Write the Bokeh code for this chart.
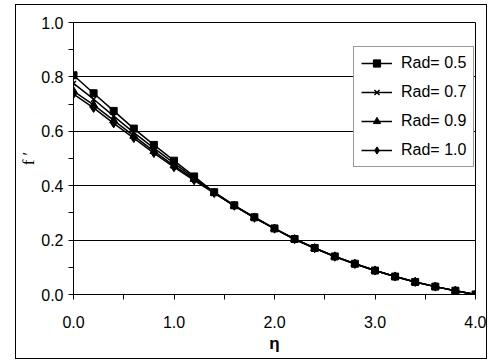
from bokeh.plotting import figure
from bokeh.models import (Legend, LegendItem, FixedTicker,
                          Range1d, NumeralTickFormatter)
from bokeh.embed import file_html
from bokeh.resources import INLINE

# ---- data ----
eta = [0.0, 0.2, 0.4, 0.6, 0.8, 1.0, 1.2, 1.4, 1.6, 1.8, 2.0,
       2.2, 2.4, 2.6, 2.8, 3.0, 3.2, 3.4, 3.6, 3.8, 4.0]
f_rad05 = [0.806, 0.740, 0.675, 0.610, 0.550, 0.492, 0.434, 0.376, 0.328, 0.284, 0.243,
           0.204, 0.171, 0.140, 0.113, 0.088, 0.066, 0.046, 0.029, 0.014, 0.0]
f_rad07 = [0.776, 0.718, 0.656, 0.595, 0.538, 0.483, 0.429, 0.375, 0.327, 0.283, 0.242,
           0.204, 0.171, 0.140, 0.113, 0.088, 0.066, 0.046, 0.029, 0.014, 0.0]
f_rad09 = [0.748, 0.697, 0.640, 0.583, 0.527, 0.474, 0.424, 0.374, 0.326, 0.283, 0.242,
           0.203, 0.170, 0.140, 0.113, 0.088, 0.066, 0.046, 0.029, 0.014, 0.0]
f_rad10 = [0.737, 0.686, 0.629, 0.575, 0.520, 0.468, 0.420, 0.373, 0.326, 0.282, 0.242,
           0.203, 0.170, 0.139, 0.112, 0.088, 0.066, 0.046, 0.029, 0.014, 0.0]
series_labels = ["Rad= 0.5", "Rad= 0.7", "Rad= 0.9", "Rad= 1.0"]
x_ticks = [0, 1, 2, 3, 4]
x_minor = [0.5, 1.5, 2.5, 3.5]
y_ticks = [0.0, 0.2, 0.4, 0.6, 0.8, 1.0]
y_minor = [0.1, 0.3, 0.5, 0.7, 0.9]
x_label = "η"
y_label = "f ′"

FONT = "Liberation Sans"

p = figure(width=472, height=355, output_backend="svg", toolbar_location=None,
           x_range=Range1d(0, 4), y_range=Range1d(0, 1),
           min_border_left=56, min_border_right=13, min_border_top=17, min_border_bottom=66)
p.margin = (4, 0, 0, 15)
p.styles = {"border": "1px solid black"}
p.background_fill_color = "white"
p.border_fill_color = "white"
p.outline_line_color = "black"
p.outline_line_width = 1

# axes
for ax in (p.xaxis[0], p.yaxis[0]):
    ax.axis_line_color = "black"
    ax.major_tick_line_color = "black"
    ax.minor_tick_line_color = "black"
    ax.major_tick_in = 0
    ax.major_tick_out = 5
    ax.minor_tick_in = 0
    ax.minor_tick_out = 5
    ax.major_label_text_font = FONT
    ax.major_label_text_font_size = "16px"
    ax.major_label_text_color = "black"
    ax.formatter = NumeralTickFormatter(format="0.0")
    ax.axis_label_text_color = "black"
    ax.axis_label_text_font_style = "normal"

p.xaxis[0].ticker = FixedTicker(ticks=x_ticks, minor_ticks=x_minor)
p.yaxis[0].ticker = FixedTicker(ticks=y_ticks, minor_ticks=y_minor)
p.xaxis[0].major_label_standoff = 16
p.yaxis[0].major_label_standoff = 5

p.xaxis[0].axis_label = x_label
p.xaxis[0].axis_label_text_font = FONT
p.xaxis[0].axis_label_text_font_size = "17px"
p.xaxis[0].axis_label_text_font_style = "bold"
p.xaxis[0].axis_label_standoff = 3

p.yaxis[0].axis_label = y_label
p.yaxis[0].axis_label_text_font = "Liberation Serif"
p.yaxis[0].axis_label_text_font_size = "17px"
p.yaxis[0].axis_label_standoff = 0

p.xgrid.visible = False
p.ygrid[0].ticker = FixedTicker(ticks=y_ticks)
p.ygrid.grid_line_color = "black"
p.ygrid.grid_line_width = 1

series = [f_rad05, f_rad07, f_rad09, f_rad10]
markers = ["square", "x", "triangle", "diamond"]
sizes = [7, 7, 8, 9]
items = []
for ys, m, s, lab in zip(series, markers, sizes, series_labels):
    lr = p.line(eta, ys, line_color="black", line_width=1.5)
    sr = p.scatter(eta, ys, marker=m, size=s, fill_color="black", line_color="black",
                   line_width=1.5 if m == "x" else 1)
    items.append(LegendItem(label=lab, renderers=[lr, sr]))

legend = Legend(items=items, location=(280, 127))
legend.label_text_font = FONT
legend.label_text_font_size = "16px"
legend.label_text_color = "black"
legend.glyph_width = 31
legend.glyph_height = 18
legend.label_height = 18
legend.spacing = 11
legend.padding = 7
legend.margin = 0
legend.label_standoff = 9
legend.border_line_color = "#333333"
legend.border_line_width = 1
legend.background_fill_color = "white"
legend.background_fill_alpha = 1
p.add_layout(legend)

open("out.html", "w").write(file_html(p, INLINE))
